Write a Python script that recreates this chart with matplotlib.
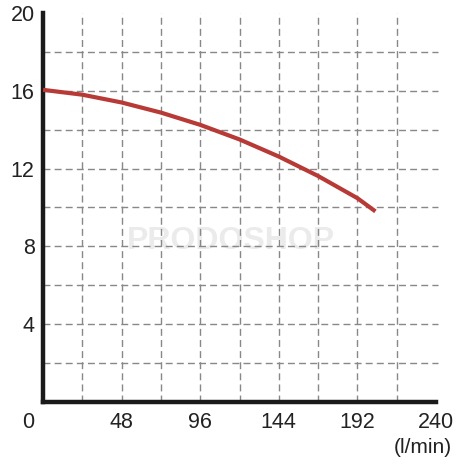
import matplotlib
matplotlib.use("Agg")
import matplotlib.pyplot as plt

# Datos de la curva (caudal l/min, altura m)
flow = [0, 24, 48, 72, 96, 120, 144, 168, 192, 203]
head = [16.05, 15.8, 15.4, 14.88, 14.25, 13.5, 12.62, 11.62, 10.48, 9.8]

x_ticks = [48, 96, 144, 192, 240]
y_ticks = [4, 8, 12, 16, 20]
x_grid = [24, 48, 72, 96, 120, 144, 168, 192, 216]
y_grid = [2, 4, 6, 8, 10, 12, 14, 16, 18]

plt.rcParams['font.family'] = ['Liberation Sans', 'DejaVu Sans']

fig = plt.figure(figsize=(4.75, 4.75), dpi=100)
ax = fig.add_axes([43 / 475, 73 / 475, 393 / 475, 389 / 475])
ax.set_xlim(0, 240)
ax.set_ylim(0, 20)

# Rejilla discontinua
dash = (0, (5, 3))
for gx in x_grid:
    ax.plot([gx, gx], [0, 20], color='#888888', lw=1.0, ls=dash, zorder=1)
for gy in y_grid:
    ax.plot([0, 241], [gy, gy], color='#888888', lw=1.0, ls=dash, zorder=1, clip_on=False)

# Marca de agua
ax.text(115, 8.3, 'PRODOSHOP', fontsize=23, fontweight='bold', color='#ebebeb',
        ha='center', va='center', zorder=0)

# Curva
ax.plot(flow, head, color='#b83a36', lw=3.0, solid_capstyle='butt', zorder=3)

for s in ['top', 'right']:
    ax.spines[s].set_visible(False)
for s in ['left', 'bottom']:
    ax.spines[s].set_linewidth(3.2)
    ax.spines[s].set_color('#1a1a1a')

ax.set_xticks(x_ticks)
ax.set_yticks(y_ticks)
ax.tick_params(length=0, labelsize=15.5, colors='#222222')
ax.tick_params(axis='x', pad=7)
ax.tick_params(axis='y', pad=6)
ax.text(-9, -1.05, '0', fontsize=15.5, color='#222222', ha='center', va='center', clip_on=False)
ax.text(232, -2.35, '(l/min)', fontsize=15, color='#222222', ha='center', va='center', clip_on=False)

fig.savefig('out.png', dpi=100)
